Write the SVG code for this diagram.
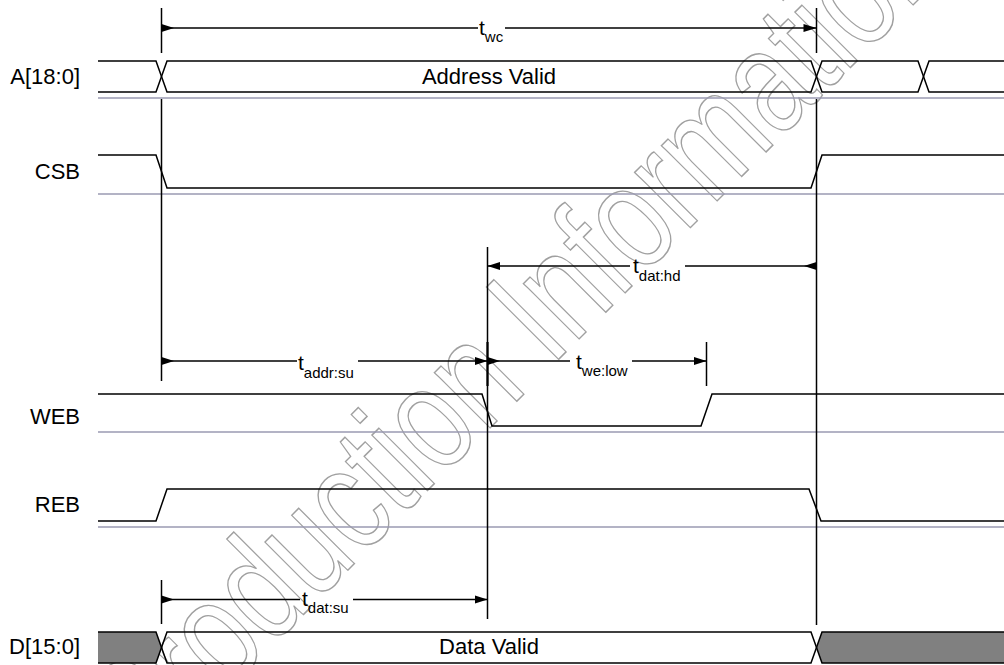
<svg xmlns="http://www.w3.org/2000/svg" width="1004" height="665" viewBox="0 0 1004 665">
<style>
.sig{fill:none;stroke:#000;stroke-width:1.5;stroke-linejoin:miter}
.base{fill:none;stroke:#9a9ab2;stroke-width:1.6}
.vl{fill:none;stroke:#000;stroke-width:1.5}
.vt{fill:none;stroke:#000;stroke-width:2.2}
.ar{fill:none;stroke:#000;stroke-width:1.5}
.ah{fill:#000;stroke:none}
.lbl{font-family:"Liberation Sans",Arial,sans-serif;font-size:22px;fill:#000}
.tl{font-family:"Liberation Sans",Arial,sans-serif;font-size:21px;fill:#000}
.sub{font-size:15px}
.inv{fill:#808080;stroke:none}
.wm{font-family:"Liberation Sans",Arial,sans-serif;font-size:110px;fill:none;stroke:#a0a0a0;stroke-width:1.1}
</style>
<rect width="1004" height="665" fill="#fff"/>

<g id="watermark">
<text class="wm" transform="translate(146,772) rotate(-45) scale(1.03,1.35)">Production Information</text>
</g>

<g id="sig-A">
<text class="lbl" x="80" y="84" text-anchor="end">A[18:0]</text>
<line class="base" x1="98" y1="98" x2="1004" y2="98"/>
<path class="sig" d="M98,61 H156 L167,92 H811 L822,61 H918 L929,92 H1004"/>
<path class="sig" d="M98,92 H156 L167,61 H811 L822,92 H918 L929,61 H1004"/>
<text class="lbl" x="489" y="84" text-anchor="middle">Address Valid</text>
</g>

<g id="sig-CSB">
<text class="lbl" x="80" y="179" text-anchor="end">CSB</text>
<line class="base" x1="98" y1="194" x2="1004" y2="194"/>
<path class="sig" d="M98,155 H156 L167,188 H811 L822,155 H1004"/>
</g>

<g id="sig-WEB">
<text class="lbl" x="80" y="424" text-anchor="end">WEB</text>
<line class="base" x1="98" y1="432" x2="1004" y2="432"/>
<path class="sig" d="M98,394 H482 L492,426 H701 L712,394 H1004"/>
</g>

<g id="sig-REB">
<text class="lbl" x="80" y="512" text-anchor="end">REB</text>
<line class="base" x1="98" y1="527" x2="1004" y2="527"/>
<path class="sig" d="M98,521 H156 L167,489 H809 L821,521 H1004"/>
</g>

<g id="sig-D">
<text class="lbl" x="80" y="654" text-anchor="end">D[15:0]</text>
<polygon class="inv" points="98,632 156,632 161.5,647.5 156,663 98,663"/>
<polygon class="inv" points="1004,632 822,632 816.5,647.5 822,663 1004,663"/>
<path class="sig" d="M98,632 H156 L167,663 H811 L822,632 H1004"/>
<path class="sig" d="M98,663 H156 L167,632 H811 L822,663 H1004"/>
<text class="lbl" x="489" y="654" text-anchor="middle">Data Valid</text>
</g>

<g id="connectors">
<line class="vl" x1="161.5" y1="8" x2="161.5" y2="53"/>
<line class="vl" x1="161.5" y1="99" x2="161.5" y2="381"/>
<line class="vl" x1="161.5" y1="580" x2="161.5" y2="624"/>
<line class="vl" x1="816.5" y1="8" x2="816.5" y2="53"/>
<line class="vl" x1="816.5" y1="99" x2="816.5" y2="625"/>
<line class="vl" x1="487.5" y1="247" x2="487.5" y2="619"/>
<line class="vt" x1="487.5" y1="342" x2="487.5" y2="386"/>
<line class="vl" x1="706.5" y1="342" x2="706.5" y2="386"/>

<line class="ar" x1="161.5" y1="28" x2="478" y2="28"/>
<line class="ar" x1="505" y1="28" x2="816.5" y2="28"/>
<polygon class="ah" points="161.5,24 174,28 161.5,32"/>
<polygon class="ah" points="816.5,28 803.5,24 803.5,32"/>

<line class="ar" x1="487.5" y1="266" x2="630" y2="266"/>
<line class="ar" x1="685" y1="266" x2="816.5" y2="266"/>
<polygon class="ah" points="487.5,266 500,262 500,270"/>
<polygon class="ah" points="804,266 816.5,262 816.5,270"/>

<line class="ar" x1="161.5" y1="361" x2="297" y2="361"/>
<line class="ar" x1="358" y1="361" x2="487.5" y2="361"/>
<polygon class="ah" points="161.5,357 174,361 161.5,365"/>
<polygon class="ah" points="487.5,361 475,357 475,365"/>

<line class="ar" x1="487.5" y1="361" x2="570" y2="361"/>
<line class="ar" x1="632" y1="361" x2="706.5" y2="361"/>
<polygon class="ah" points="487.5,357 500,361 487.5,365"/>
<polygon class="ah" points="706.5,361 694,357 694,365"/>

<line class="ar" x1="161.5" y1="599.5" x2="300" y2="599.5"/>
<line class="ar" x1="353" y1="599.5" x2="487.5" y2="599.5"/>
<polygon class="ah" points="161.5,595.5 174,599.5 161.5,603.5"/>
<polygon class="ah" points="487.5,599.5 475,595.5 475,603.5"/>
</g>

<g id="labels">
<text class="tl" x="479" y="35">t<tspan class="sub" dy="7">wc</tspan></text>
<text class="tl" x="633" y="273">t<tspan class="sub" dy="8">dat:hd</tspan></text>
<text class="tl" x="298" y="370">t<tspan class="sub" dy="8">addr:su</tspan></text>
<text class="tl" x="576" y="369">t<tspan class="sub" dy="7">we:low</tspan></text>
<text class="tl" x="302" y="606">t<tspan class="sub" dy="7">dat:su</tspan></text>
</g>
</svg>
